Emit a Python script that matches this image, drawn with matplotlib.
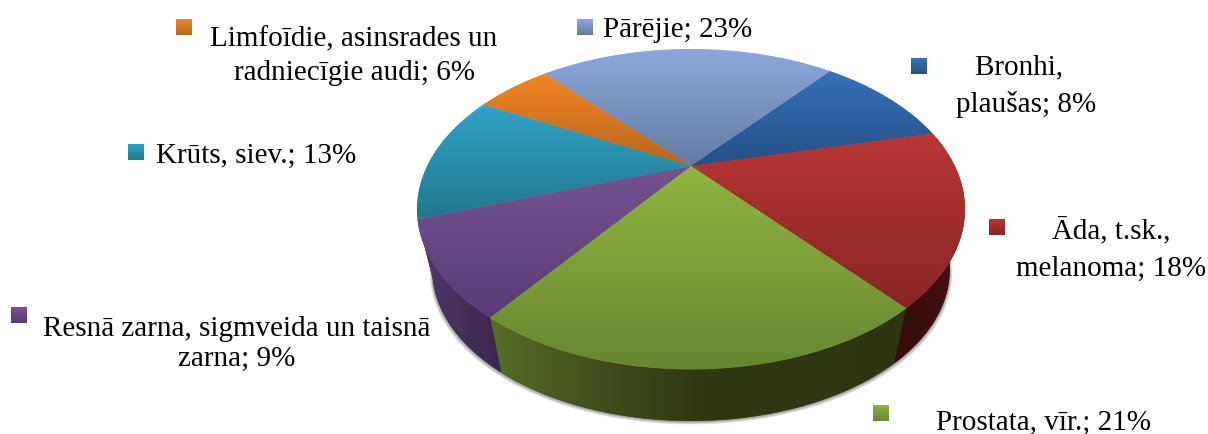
import numpy as np
import matplotlib
matplotlib.use("Agg")
import matplotlib.pyplot as plt
from matplotlib.colors import LinearSegmentedColormap
from matplotlib.transforms import Transform

# ---- data ----
categories = ["Pārējie", "Bronhi", "Āda", "Prostata", "Resnā zarna", "Krūts", "Limfoīdie"]
slice_shares = [22.6, 10.3, 17.5, 21.4, 9.5, 13.0, 5.7]
# printed labels
label_texts = ["Pārējie; 23%", "Bronhi,  \nplaušas; 8%", "Āda, t.sk.,\nmelanoma; 18%",
               "Prostata, vīr.; 21%", "Resnā zarna, sigmveida un taisnā\nzarna; 9%",
               "Krūts, siev.; 13%", "Limfoīdie, asinsrades un\nradniecīgie audi; 6%"]
label_xy = [(678, 30), (1026, 86), (1111, 250), (1044, 423), (237, 344), (256, 156), (354, 56)]
label_spacing = [1.2, 1.5, 1.52, 1.2, 1.2, 1.2, 1.4]
legend_xy = [(577, 20), (911, 59), (989, 220), (873, 406), (11, 308), (128, 145), (176, 20)]
top_colors = ["#8CA8DC", "#3672B8", "#BA3734", "#8FB53F", "#75538F", "#2FA4C5", "#F28526"]
bot_colors = ["#647CA3", "#254F86", "#872524", "#678730", "#593D75", "#227890", "#B8661B"]
wall_colors = {2: ["#340D0D", "#3A0F0F", "#4A1414"],
               3: ["#556E25", "#434F1C", "#2F3813", "#2E3712", "#2C3410"],
               4: ["#4E3A6A", "#443058", "#3C2750"]}
start_angle = 131.8

# ---- geometry of the tilted disc ----
CX, CY = 691.0, 167.0
A, B, K = 263.3, 148.0, 0.2707
S, Y0 = 0.945, 230.0


def project(xy, bottom=False):
    xy = np.asarray(xy, float)
    w = 1 + K * xy[..., 1]
    dx, dy = A * xy[..., 0] / w, -B * xy[..., 1] / w
    if bottom:
        return np.stack([CX + S * dx, Y0 + S * dy], axis=-1)
    return np.stack([CX + dx, CY + dy], axis=-1)


class Perspective(Transform):
    input_dims = output_dims = 2
    is_separable = False

    def transform_non_affine(self, values):
        return project(values)


def arc(t1, t2, bottom=False, n=120):
    t = np.radians(np.linspace(t1, t2, n))
    return project(np.column_stack([np.cos(t), np.sin(t)]), bottom)


def gradient(ax, c1, c2, box, horizontal=False, clip=None, stops=None, zorder=2):
    cmap = LinearSegmentedColormap.from_list("g", stops if stops else [c1, c2])
    g = np.linspace(0, 1, 256)
    g = g[None, :] if horizontal else g[:, None]
    im = ax.imshow(g, cmap=cmap, vmin=0, vmax=1, extent=box, origin="upper",
                   aspect="auto", interpolation="bilinear", zorder=zorder)
    if clip is not None:
        im.set_clip_path(clip)
    return im


plt.rcParams["font.family"] = ["Liberation Serif", "DejaVu Serif"]
fig = plt.figure(figsize=(12.08, 4.35), dpi=100)
ax = fig.add_axes([0, 0, 1, 1])

wedges, _ = ax.pie(slice_shares, startangle=start_angle, counterclock=False,
                   colors=top_colors, radius=1, center=(0, 0), frame=False)
persp = Perspective() + ax.transData
ax.set_aspect("auto")
ax.set_autoscale_on(False)
ax.set_xlim(0, 1208)
ax.set_ylim(435, 0)
ax.axis("off")

# soft shadow under the disc
full = arc(0, 360, bottom=True, n=360)
for i in range(1, 7):
    scale = 1 + i * 0.0018
    pts = np.column_stack([CX + (full[:, 0] - CX) * scale, full[:, 1] + i * 0.55 + 0.5])
    ax.fill(pts[:, 0], pts[:, 1], color="#000000", alpha=0.07, lw=0, zorder=0.5)

# side walls
bounds = start_angle - np.cumsum([0] + slice_shares) * 3.6
for i, stops in wall_colors.items():
    t1, t2 = bounds[i], bounds[i + 1]
    top = arc(t1, t2)
    bot = arc(t2, t1, bottom=True)
    pts = np.vstack([top, bot])
    poly = ax.fill(pts[:, 0], pts[:, 1], color=stops[1], lw=0.5, zorder=1)[0]
    box = (pts[:, 0].min(), pts[:, 0].max(), pts[:, 1].max(), pts[:, 1].min())
    gradient(ax, None, None, box, horizontal=True, clip=poly, stops=stops, zorder=1.2)

# top face
for i, w in enumerate(wedges):
    w.set_transform(persp)
    w.set_zorder(2)
    w.set_edgecolor("none")
    t1, t2 = bounds[i], bounds[i + 1]
    pts = np.vstack([arc(t1, t2), [[CX, CY]]])
    box = (pts[:, 0].min(), pts[:, 0].max(), pts[:, 1].max(), pts[:, 1].min())
    gradient(ax, top_colors[i], bot_colors[i], box, clip=w, zorder=2.2)
    # anti-aliased rim over the clipped gradient
    rim = arc(t1, t2)
    c = LinearSegmentedColormap.from_list("r", [top_colors[i], bot_colors[i]])
    frac = (rim[:, 1] - box[3]) / max(box[2] - box[3], 1)
    for j in range(0, len(rim) - 1, 3):
        ax.plot(rim[j:j + 4, 0], rim[j:j + 4, 1], color=c(frac[j]), lw=0.8,
                solid_capstyle="round", zorder=2.4)

# labels and legend keys
for i, (txt, (x, y)) in enumerate(zip(label_texts, label_xy)):
    ax.text(x, y, txt, ha="center", va="center", fontsize=21.0, color="black",
            linespacing=label_spacing[i], zorder=5)
    lx, ly = legend_xy[i]
    gradient(ax, top_colors[i], bot_colors[i], (lx, lx + 15.5, ly + 16, ly), zorder=4)

ax.set_xlim(0, 1208)
ax.set_ylim(435, 0)
fig.savefig("out.png", dpi=100, facecolor="white")
